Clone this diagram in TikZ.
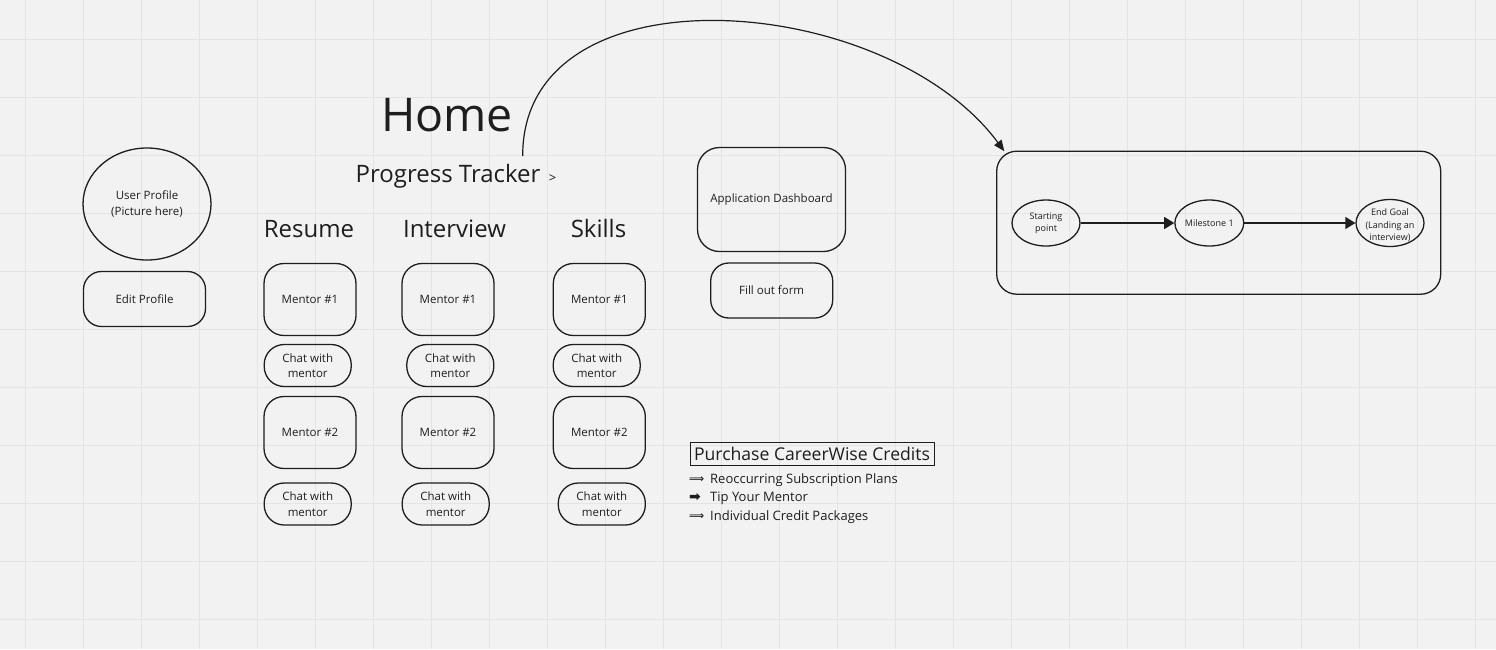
\documentclass[tikz,border=0pt]{standalone}
\usepackage{fontspec}
\setmainfont{Open Sans}
\newfontfamily\symfont{DejaVu Sans}
\usetikzlibrary{positioning,arrows.meta,shapes.geometric,calc}
\definecolor{ink}{HTML}{1E1E1E}
\definecolor{paper}{HTML}{F2F2F2}
\definecolor{gridline}{HTML}{E4E4E4}
\tikzset{
  card/.style    = {draw=ink, rounded corners=20pt, line width=1.3pt, align=center, text=ink,
                    inner sep=2pt, font=\fontsize{11.5}{15.5}\selectfont},
  mentor/.style  = {card, minimum width=92pt, minimum height=72pt},
  chat/.style    = {card, minimum width=87pt, minimum height=42pt},
  heading/.style = {anchor=base, text=ink, inner sep=0pt, font=\fontsize{24}{28}\selectfont},
  stop/.style    = {draw=ink, ellipse, line width=1.3pt, minimum width=68pt, minimum height=46pt,
                    inner sep=0pt, align=center, text=ink, font=\fontsize{9}{12.3}\selectfont},
  flow/.style    = {-{Triangle[length=10pt,width=12pt]}, line width=1.3pt, draw=ink},
  item/.style    = {anchor=base west, text=ink, inner sep=0pt, font=\fontsize{13}{16}\selectfont},
}
\newcommand{\bullarrow}[2]{\makebox[21pt][l]{\raisebox{0.5pt}{\symfont\fontsize{#1}{#1}\selectfont\textbf{#2}}}}

\begin{document}
\begin{tikzpicture}[x=1pt, y=-1pt]
  % canvas and grid
  \fill[paper] (0,0) rectangle (1496,649);
  \useasboundingbox (0,0) rectangle (1496,649);
  \foreach \gx in {0,...,25} \draw[gridline, line width=1.1pt] (25.5+58*\gx,0) -- (25.5+58*\gx,649);
  \foreach \gy in {0,...,10} \draw[gridline, line width=1.1pt] (0,39.3+58*\gy) -- (1496,39.3+58*\gy);

  % titles
  \node[heading, font=\fontsize{46.5}{54}\selectfont] (home) at (447,131) {Home};
  \node[heading] (tracker) at (456,182.7) {Progress Tracker {\fontsize{13}{14}\selectfont\,>}};

  % profile column
  \node[draw=ink, ellipse, line width=1.3pt, minimum width=128pt, minimum height=112pt, inner sep=0pt,
        align=center, text=ink, font=\fontsize{11.5}{16}\selectfont] (profile) at (147,204)
        {User Profile\\(Picture here)};
  \node[card, rounded corners=18pt, minimum width=122pt, minimum height=55pt] (edit) at (144.5,299) {Edit Profile};

  % mentor columns
  \foreach \col/\head/\hx/\mx/\ca/\cb in {res/Resume/309/310/307.7/307.7,
                                          int/Interview/454.5/448/450.3/445.7,
                                          ski/Skills/598.5/599.3/596.7/601.8} {
    \node[heading] (\col-head) at (\hx,237.7) {\head};
    \node[mentor] (\col-m1) at (\mx,299.5) {Mentor \#1};
    \node[chat]   (\col-c1) at (\ca,365.5) {Chat with\\mentor};
    \node[mentor] (\col-m2) at (\mx,432.5) {Mentor \#2};
    \node[chat]   (\col-c2) at (\cb,504) {Chat with\\mentor};
  }

  % applications
  \node[card, rounded corners=22pt, minimum width=148pt, minimum height=104pt] (dash) at (771.5,199.5) {Application Dashboard};
  \node[card, rounded corners=18pt, minimum width=122pt, minimum height=55pt] (form) at (771.7,290.5) {Fill out form};

  % credits
  \node[draw=ink, line width=1pt, minimum width=244pt, minimum height=23pt, inner sep=0pt, text=ink,
        font=\fontsize{17.6}{19}\selectfont] (credits) at (812,453.5) {Purchase CareerWise Credits};
  \node[item] (plans) at (689,483.3) {\bullarrow{10.5}{⟹}Reoccurring Subscription Plans};
  \node[item] (tip)   at (689,501.7) {\bullarrow{14}{➡}Tip Your Mentor};
  \node[item] (packs) at (689,520)   {\bullarrow{10.5}{⟹}Individual Credit Packages};

  % progress flow
  \node[draw=ink, rounded corners=20pt, line width=1.3pt, minimum width=444pt, minimum height=143pt] (flowbox) at (1218.7,222.7) {};
  \node[stop] (start) at (1046,223) {Starting\\point};
  \node[stop] (mile)  at (1209.3,223) {Milestone 1};
  \node[stop, minimum height=47pt, label={[align=center, text=ink, yshift=-2.5pt, font=\fontsize{9}{12.3}\selectfont]center:End Goal\\(Landing an\\interview)}] (goal) at (1390,223) {};
  \draw[flow] (start) -- (mile);
  \draw[flow] (mile) -- (goal);

  % tracker link
  \coordinate (trackup) at (522.7,156);
  \coordinate (flowtip) at ($(flowbox.north west)+(8.3,0.7)$);
  \draw[ink, line width=1.2pt, -{Triangle[length=11pt,width=9pt]}]
    (trackup) .. controls (522,-35) and (885,-10) .. (flowtip);
\end{tikzpicture}
\end{document}
